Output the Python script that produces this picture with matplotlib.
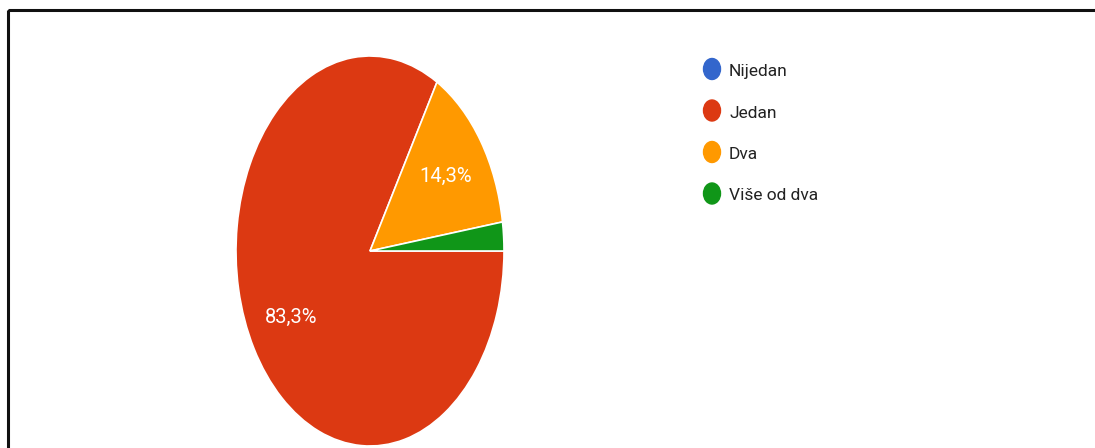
import matplotlib.pyplot as plt
from matplotlib.patches import Ellipse, Rectangle

# answers from the form (counts out of 42)
labels = ['Nijedan', 'Jedan', 'Dva', 'Više od dva']
counts = [0, 35, 6, 1]
colors = ['#3366cc', '#dc3912', '#ff9900', '#109618']

W, H = 1095, 448
plt.rcParams['font.family'] = ['Roboto', 'DejaVu Sans']

fig = plt.figure(figsize=(W / 100, H / 100), dpi=100)

# pie is squashed horizontally in the screenshot, so use an auto-aspect axes
cx, cy, rx, ry = 370, 251, 134, 195
ax = fig.add_axes([(cx - rx) / W, (H - cy - ry) / H, 2 * rx / W, 2 * ry / H])


def pct(v):
    if v < 5:
        return ''
    return f'{v:.1f}%'.replace('.', ',')


wedges, _, autotexts = ax.pie(counts, colors=colors, startangle=0, counterclock=False,
                              autopct=pct, pctdistance=0.68,
                              wedgeprops=dict(edgecolor='white', linewidth=1.2),
                              textprops=dict(color='white', fontsize=14.5))
ax.set_aspect('auto')
ax.set_xlim(-1, 1)
ax.set_ylim(-1, 1)
ax.axis('off')

# overlay in pixel coordinates for legend and frame
ov = fig.add_axes([0, 0, 1, 1], zorder=-1)
ov.set_xlim(0, W)
ov.set_ylim(H, 0)
ov.axis('off')
ov.add_patch(Rectangle((8, 10), W + 20, H + 20, fill=False, edgecolor='#111111', linewidth=2.2))

lax = fig.add_axes([0, 0, 1, 1])
lax.set_xlim(0, W)
lax.set_ylim(H, 0)
lax.axis('off')
row_y = 69
for lab, col in zip(labels, colors):
    lax.add_patch(Ellipse((712, row_y), 17, 21, color=col))
    lax.text(729, row_y + 7, lab, fontsize=12.5, color='#222222', va='baseline', ha='left')
    row_y += 41.5

fig.savefig('out.png', dpi=100, facecolor='white')
